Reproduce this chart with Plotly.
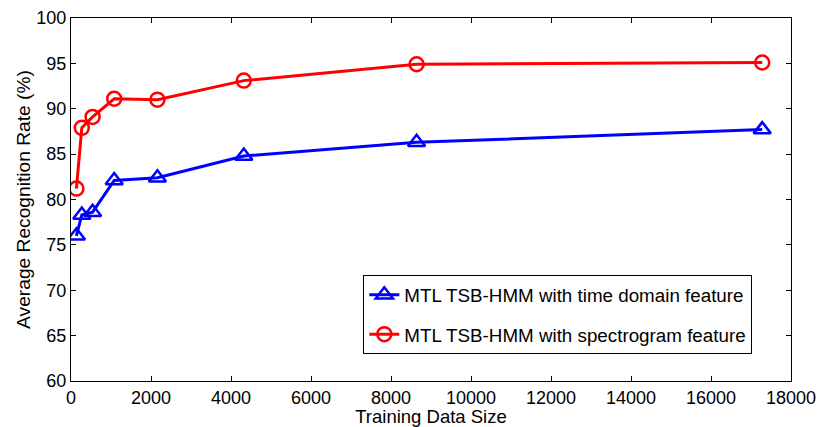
import plotly.graph_objects as go

train_size = [135, 270, 540, 1080, 2160, 4320, 8640, 17280]
time_domain = [76.0, 78.3, 78.6, 82.1, 82.4, 84.8, 86.3, 87.7]
spectrogram = [81.2, 87.9, 89.1, 91.1, 91.0, 93.1, 94.9, 95.1]
x_ticks = list(range(0, 18001, 2000))
y_ticks = list(range(60, 101, 5))

FONT = "Liberation Sans, Arial, sans-serif"

fig = go.Figure()
fig.add_trace(go.Scatter(
    x=train_size, y=time_domain, mode="lines+markers",
    name="MTL TSB-HMM with time domain feature", legendgroup="a",
    line=dict(color="#0000ff", width=3),
    marker=dict(symbol="triangle-up-open", size=15, color="#0000ff", line=dict(width=2.5, color="#0000ff")),
))
fig.add_trace(go.Scatter(
    x=train_size, y=spectrogram, mode="lines+markers",
    name="MTL TSB-HMM with spectrogram feature", legendgroup="b",
    line=dict(color="#ff0000", width=3),
    marker=dict(symbol="circle-open", size=14, color="#ff0000", line=dict(width=2.5, color="#ff0000")),
))

axis_common = dict(
    showline=True, linecolor="black", linewidth=1, mirror="ticks",
    ticks="inside", ticklen=5, tickcolor="black", showgrid=False, zeroline=False,
    tickfont=dict(family=FONT, size=18, color="black"), automargin=False,
)
fig.update_xaxes(range=[0, 18000], tickvals=x_ticks, ticktext=[str(v) for v in x_ticks],
                 title=dict(text="Training Data Size", font=dict(family=FONT, size=18.5, color="black"), standoff=2),
                 **axis_common)
fig.update_yaxes(range=[60, 100], tickvals=y_ticks,
                 title=dict(text="Average Recognition Rate (%)", font=dict(family=FONT, size=19.2, color="black"), standoff=0),
                 **axis_common)

fig.update_layout(
    width=818, height=427,
    margin=dict(l=71, r=27, t=18, b=46),
    paper_bgcolor="white", plot_bgcolor="white",
    font=dict(family=FONT, size=18, color="black"),
    legend=dict(
        x=0.406, y=0.292, xanchor="left", yanchor="top",
        bordercolor="black", borderwidth=1, bgcolor="white",
        font=dict(family=FONT, size=18.8, color="black"),
        tracegroupgap=12,
    ),
)

fig.write_html("out.html", config={"displayModeBar": False},
               post_script="document.body.style.margin='0';")
